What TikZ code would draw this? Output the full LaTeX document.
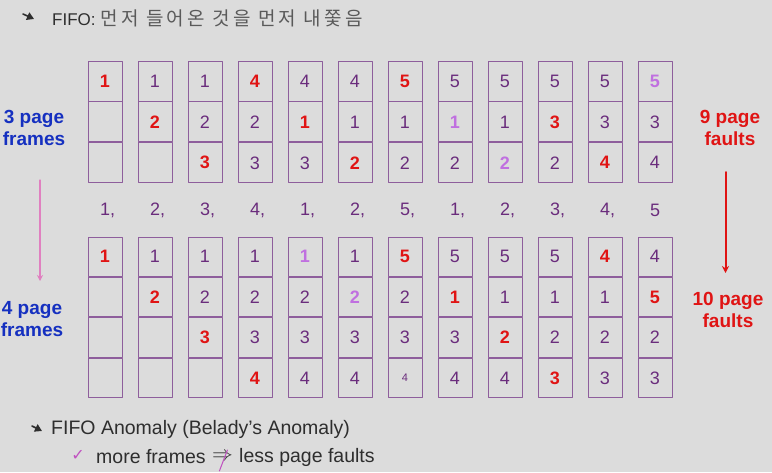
\documentclass[tikz,border=0pt]{standalone}
\usepackage{amsmath,amssymb}
\usepackage{xcolor}
\usepackage{fontspec}
\setmainfont{Liberation Sans}
\newfontfamily\krfont[LetterSpace=17]{Noto Sans CJK KR}
\newfontfamily\symfont{DejaVu Sans}
\usepackage{tikz}
\usetikzlibrary{calc,positioning,arrows.meta}

\definecolor{bgc}{HTML}{DCDCDC}
\definecolor{boxc}{HTML}{8E5E9C}
\definecolor{numc}{HTML}{6A2C7C}
\definecolor{fltc}{HTML}{E01414}
\definecolor{hitc}{HTML}{C070E0}
\definecolor{bluec}{HTML}{1530C0}
\definecolor{pinkc}{HTML}{E080C0}
\definecolor{titc}{HTML}{2E2E2E}
\definecolor{krc}{HTML}{5A5A5A}
\definecolor{magc}{HTML}{C050C0}

\newcommand\flt[1]{\textcolor{fltc}{\bfseries #1}}
\newcommand\hit[1]{\textcolor{hitc}{\bfseries #1}}
\newcommand\smallfour{\fontsize{11}{11}\selectfont 4}

\begin{document}
\begin{tikzpicture}[x=1pt, y=-1pt, line cap=round, line join=round,
	cell/.style={draw=boxc, line width=0.9pt, minimum width=34pt, minimum height=40pt,
		inner sep=0pt, text=numc, font=\fontsize{18}{18}\selectfont},
	cellb/.style={cell, minimum height=39.5pt},
	seq/.style={anchor=west, inner sep=0pt, text=numc, font=\fontsize{18}{18}\selectfont},
	lab/.style={align=center, inner sep=0pt, font=\fontsize{19}{22}\selectfont\bfseries},
	txt/.style={anchor=west, inner sep=0pt, text=titc, font=\fontsize{17}{20}\selectfont},
	txtb/.style={txt, font=\fontsize{19.5}{22}\selectfont}]
	
	%====================
	% 0) 背景与边界
	%====================
	\fill[bgc] (0,0) rectangle (772,472);
	\useasboundingbox (0,0) rectangle (772,472);
	
	%====================
	% 1) 标题行
	%====================
	\draw[titc, line width=1.6pt, -{Triangle[length=7pt,width=8pt]}] (23,14) -- (34,19);
	\node[txt] (title) at (52,18) {FIFO: {\krfont\fontsize{19}{20}\selectfont\color{krc}먼저 들어온 것을 먼저 내쫓음}};
	
	%====================
	% 2) 3 个页框（上排）
	%====================
	\foreach \a/\b/\c [count=\i from 0] in {
		{\flt1}/{}/{}, {1}/{\flt2}/{}, {1}/{2}/{\flt3}, {\flt4}/{2}/{3},
		{4}/{\flt1}/{3}, {4}/{1}/{\flt2}, {\flt5}/{1}/{2}, {5}/{\hit1}/{2},
		{5}/{1}/{\hit2}, {5}/{\flt3}/{2}, {5}/{3}/{\flt4}, {\hit5}/{3}/{4}}{
		\pgfmathsetmacro\cx{105+50*\i}
		\node[cell] (t-\i-1) at (\cx,81) {\a};
		\node[cell, below=0pt of t-\i-1] (t-\i-2) {\b};
		\node[cell, below=0pt of t-\i-2] (t-\i-3) {\c};
	}
	
	%====================
	% 3) 引用串
	%====================
	\foreach \s [count=\i from 0] in {{1,},{2,},{3,},{4,},{1,},{2,},{5,},{1,},{2,},{3,},{4,},5}{
		\pgfmathsetmacro\cx{105+50*\i}
		\node[seq] (s-\i) at (\cx-5,210) {\s};
	}
	
	%====================
	% 4) 4 个页框（下排）
	%====================
	\foreach \a/\b/\c/\d [count=\i from 0] in {
		{\flt1}/{}/{}/{}, {1}/{\flt2}/{}/{}, {1}/{2}/{\flt3}/{}, {1}/{2}/{3}/{\flt4},
		{\hit1}/{2}/{3}/{4}, {1}/{\hit2}/{3}/{4}, {\flt5}/{2}/{3}/{\smallfour}, {5}/{\flt1}/{3}/{4},
		{5}/{1}/{\flt2}/{4}, {5}/{1}/{2}/{\flt3}, {\flt4}/{1}/{2}/{3}, {4}/{\flt5}/{2}/{3}}{
		\pgfmathsetmacro\cx{105+50*\i}
		\node[cellb] (b-\i-1) at (\cx,256.75) {\a};
		\node[cellb, below=0pt of b-\i-1] (b-\i-2) {\b};
		\node[cellb, below=0pt of b-\i-2] (b-\i-3) {\c};
		\node[cellb, below=0pt of b-\i-3] (b-\i-4) {\d};
	}
	
	%====================
	% 5) 左右两侧标注与箭头
	%====================
	\node[lab, text=bluec] (f3) at (34,128) {3 page\\frames};
	\node[lab, text=bluec] (f4) at (32,319) {4 page\\frames};
	\node[lab, text=fltc] (p9) at (730,128) {9 page\\faults};
	\node[lab, text=fltc] (p10) at (728,310) {10 page\\faults};
	
	\coordinate (L1) at (40,180);
	\coordinate (L2) at (40,281);
	\draw[pinkc, line width=1.2pt, -{Stealth[length=6pt,width=6pt]}] (L1) -- (L2);
	
	\coordinate (R1) at (725.5,172);
	\coordinate (R2) at (725.5,273);
	\draw[fltc, line width=2pt, -{Stealth[length=7pt,width=7pt]}] (R1) -- (R2);
	
	%====================
	% 6) 底部说明
	%====================
	\draw[titc, line width=1.6pt, -{Triangle[length=7pt,width=8pt]}] (32,426) -- (42,431);
	\node[txtb] (anom) at (51,429) {FIFO Anomaly (Belady’s Anomaly)};
	
	\node[text=magc, inner sep=0pt, font=\symfont\fontsize{16}{16}\selectfont] (chk) at (78,455) {✓};
	\node[txtb] (more) at (96,457) {more frames};
	\node[txtb, right=6pt of more] (impl) {$\Rightarrow$};
	\node[txtb, right=6pt of impl] (less) {less page faults};
	\draw[magc, line width=1pt] ($(impl.center)+(5,-7)$) -- ($(impl.center)+(-3,14)$);
	
\end{tikzpicture}
\end{document}
